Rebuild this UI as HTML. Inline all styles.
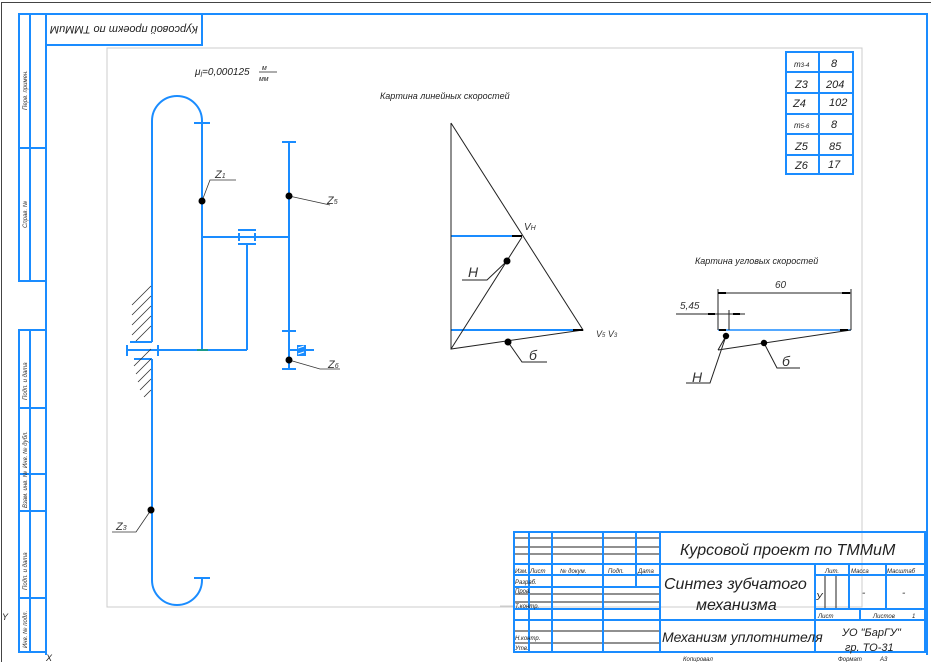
<!DOCTYPE html>
<html><head><meta charset="utf-8"><style>
html,body{margin:0;padding:0;background:#fff;}
svg{display:block;font-family:"Liberation Sans","DejaVu Sans",sans-serif;font-style:italic;}
</style></head><body>
<svg width="931" height="662" viewBox="0 0 931 662" xmlns="http://www.w3.org/2000/svg">
<rect x="0" y="0" width="931" height="662" fill="#fff"/>
<path d="M1.5 662 V2.5 H931" fill="none" stroke="#444" stroke-width="1"/>
<g fill="none" stroke="#1a8cff" stroke-width="2">
<path d="M46 14 H927 V655 M46 14 V655"/>
<rect x="19" y="14" width="27" height="267"/><line x1="30" y1="14" x2="30" y2="281"/><line x1="19" y1="148" x2="46" y2="148"/>
<rect x="19" y="330" width="27" height="322"/><line x1="30" y1="330" x2="30" y2="652"/>
<line x1="19" y1="408" x2="46" y2="408"/><line x1="19" y1="474" x2="46" y2="474"/><line x1="19" y1="511" x2="46" y2="511"/><line x1="19" y1="598" x2="46" y2="598"/>
<rect x="46" y="14" width="156" height="31"/>
</g>
<g font-size="6" fill="#333">
<text transform="translate(27,110) rotate(-90)">Перв. примен.</text>
<text transform="translate(27,228) rotate(-90)">Справ. №</text>
<text transform="translate(27,400) rotate(-90)">Подп. и дата</text>
<text transform="translate(27,468) rotate(-90)">Инв. № дубл.</text>
<text transform="translate(27,508) rotate(-90)">Взам. инв. №</text>
<text transform="translate(27,590) rotate(-90)">Подп. и дата</text>
<text transform="translate(27,648) rotate(-90)">Инв. № подл.</text>
</g>
<text transform="translate(198,26) rotate(180)" font-size="11" fill="#222">Курсовой проект по ТММиМ</text>
<rect x="107" y="48" width="755" height="559" fill="none" stroke="#ccc" stroke-width="1"/>
<text x="195" y="75" font-size="10" fill="#222">μ<tspan font-size="7" dy="2">l</tspan><tspan dy="-2">=0,000125</tspan></text>
<text x="262" y="70" font-size="7" fill="#222">м</text><line x1="259" y1="72" x2="277" y2="72" stroke="#222" stroke-width="0.7"/><text x="259" y="81" font-size="7" fill="#222">мм</text>
<g fill="none" stroke="#1a8cff" stroke-width="2">
<path d="M152 342 V121 A25 25 0 0 1 202 121 V350"/>
<line x1="194" y1="123" x2="210" y2="123"/>
<path d="M152 359 V580 A25 25 0 0 0 202 580 V578"/>
<line x1="194" y1="578" x2="210" y2="578"/>
<line x1="130" y1="342" x2="152" y2="342"/><line x1="134" y1="359" x2="152" y2="359"/>
<line x1="127" y1="350" x2="247" y2="350"/><line x1="127" y1="345" x2="127" y2="356"/><line x1="158" y1="345" x2="158" y2="356"/>
<line x1="247" y1="350" x2="247" y2="243"/>
<line x1="202" y1="237" x2="289" y2="237"/>
<line x1="238" y1="230" x2="256" y2="230"/><line x1="238" y1="244" x2="256" y2="244"/><line x1="239" y1="233" x2="239" y2="241"/><line x1="255" y1="233" x2="255" y2="241"/>
<line x1="289" y1="142" x2="289" y2="368"/>
<line x1="282" y1="142" x2="296" y2="142"/><line x1="282" y1="331" x2="296" y2="331"/><line x1="282" y1="369" x2="296" y2="369"/>
<line x1="289" y1="350" x2="314" y2="350"/>
</g>
<rect x="297" y="345" width="9" height="11" fill="#1a8cff"/>
<path d="M298 348 l6 -2 M298 354 l6 -2" stroke="#fff" stroke-width="1"/>
<line x1="197" y1="350" x2="208" y2="350" stroke="#1a9a8a" stroke-width="2"/>
<g stroke="#333" stroke-width="0.8" fill="none">
<path d="M132 305 l19 -19 M132 315 l19 -19 M132 325 l19 -19 M132 335 l19 -19 M136 341 l15 -15"/>
<path d="M134 366 l17 -17 M136 374 l15 -15 M138 382 l13 -13 M140 390 l11 -11 M144 397 l7 -7"/>
<path d="M202 201 L210 180 H236 M289 196 L330 205 M151 510 L136 532 H112 M289 360 L320 369 H340"/>
</g>
<g fill="#000"><circle cx="202" cy="201" r="3.5"/><circle cx="289" cy="196" r="3.5"/><circle cx="151" cy="510" r="3.5"/><circle cx="289" cy="360" r="3.5"/></g>
<g font-size="11" fill="#333"><text x="215" y="178">Z<tspan font-size="7">1</tspan></text><text x="327" y="204">Z<tspan font-size="7">5</tspan></text><text x="116" y="530">Z<tspan font-size="7">3</tspan></text><text x="328" y="368">Z<tspan font-size="7">6</tspan></text></g>
<text x="380" y="99" font-size="9" fill="#222">Картина линейных скоростей</text>
<g stroke="#1a8cff" stroke-width="2"><line x1="451" y1="236" x2="522" y2="236"/><line x1="451" y1="330" x2="583" y2="330"/></g>
<g stroke="#222" stroke-width="1" fill="none">
<path d="M451 123 V349 L583 330 L451 123 M451 349 L522 237 M507 261 L487 280 H462 M508 342 L522 362 H547"/>
</g>
<g fill="#000"><circle cx="507" cy="261" r="3.5"/><circle cx="508" cy="342" r="3.5"/><rect x="512" y="235" width="10" height="2"/><rect x="573" y="329" width="10" height="2"/></g>
<g fill="#333"><text x="524" y="230" font-size="10">V<tspan font-size="7">H</tspan></text><text x="596" y="337" font-size="9">V<tspan font-size="6">5</tspan> V<tspan font-size="6">3</tspan></text>
<text x="468" y="277" font-size="14">H</text><text x="529" y="360" font-size="14">б</text></g>
<g fill="none" stroke="#1a8cff" stroke-width="2"><rect x="786" y="52" width="67" height="122"/><line x1="819" y1="52" x2="819" y2="174"/>
<line x1="786" y1="72" x2="853" y2="72"/><line x1="786" y1="93" x2="853" y2="93"/><line x1="786" y1="114" x2="853" y2="114"/><line x1="786" y1="134" x2="853" y2="134"/><line x1="786" y1="155" x2="853" y2="155"/></g>
<g font-size="11" fill="#222"><text x="794" y="67" font-size="8">m<tspan font-size="6">3-4</tspan></text><text x="831" y="67">8</text>
<text x="795" y="88">Z3</text><text x="826" y="88">204</text><text x="793" y="107">Z4</text><text x="829" y="106">102</text>
<text x="794" y="128" font-size="8">m<tspan font-size="6">5-6</tspan></text><text x="831" y="128">8</text>
<text x="795" y="150">Z5</text><text x="829" y="150">85</text><text x="795" y="169">Z6</text><text x="828" y="168">17</text></g>
<text x="695" y="264" font-size="9" fill="#222">Картина угловых скоростей</text>
<line x1="718" y1="330" x2="851" y2="330" stroke="#1a8cff" stroke-width="1.5"/>
<g stroke="#222" stroke-width="1" fill="none"><path d="M718 293 H851 M718 289 V330 M851 289 V330 M676 314 H745 M729 310 V330 M718 350 L851 330 M726 336 L710 383 H686 M764 343 L777 368 H800 M726 336 L718 350"/></g>
<g fill="#000"><circle cx="726" cy="336" r="3.2"/><circle cx="764" cy="343" r="3.2"/><rect x="718" y="292" width="8" height="2"/><rect x="842" y="292" width="8" height="2"/><rect x="708" y="313" width="7" height="2"/><rect x="733" y="313" width="7" height="2"/><rect x="719" y="329" width="7" height="2"/><rect x="840" y="329" width="8" height="2"/></g>
<g fill="#333"><text x="775" y="288" font-size="10">60</text><text x="680" y="309" font-size="10">5,45</text><text x="692" y="382" font-size="14">H</text><text x="782" y="366" font-size="14">б</text></g>
<line x1="500" y1="606" x2="514" y2="606" stroke="#ccc"/>
<g stroke="#222" stroke-width="1"><path d="M514 538 H660 M514 547 H660 M514 554 H660 M514 594 H660 M514 602 H660 M514 631 H660 M514 643 H660 M825 575 V609 M836 575 V609"/></g>
<g fill="none" stroke="#1a8cff" stroke-width="2">
<rect x="514" y="532" width="411" height="120"/>
<path d="M529 532 V652 M552 532 V652 M603 532 V652 M636 532 V587 M660 532 V652 M514 564 H660 M514 575 H660 M514 587 H660 M514 609 H660 M514 620 H660 M660 564 H925 M660 620 H925 M815 564 V652 M815 575 H925 M815 609 H925 M849 564 V609 M886 564 V609 M860 609 V620"/>
</g>
<g font-size="6" fill="#222">
<text x="515" y="573">Изм.</text><text x="530" y="573">Лист</text><text x="560" y="573">№ докум.</text><text x="608" y="573">Подп.</text><text x="638" y="573">Дата</text>
<text x="515" y="584">Разраб.</text><text x="515" y="593">Пров.</text><text x="515" y="608">Т.контр.</text><text x="515" y="640">Н.контр.</text><text x="515" y="650">Утв.</text>
<text x="825" y="573">Лит.</text><text x="851" y="573">Масса</text><text x="887" y="573">Масштаб</text>
<text x="818" y="618">Лист</text><text x="873" y="618">Листов</text><text x="912" y="618">1</text>
<text x="683" y="661">Копировал</text><text x="838" y="661">Формат</text><text x="880" y="661">А3</text>
</g>
<g fill="#222">
<text x="680" y="555" font-size="16">Курсовой проект по ТММиМ</text>
<text x="664" y="589" font-size="16">Синтез зубчатого</text>
<text x="696" y="610" font-size="16">механизма</text>
<text x="662" y="642" font-size="14">Механизм уплотнителя</text>
<text x="816" y="600" font-size="10">У</text>
<text x="862" y="596" font-size="10">-</text><text x="902" y="596" font-size="10">-</text>
<text x="842" y="636" font-size="11">УО "БарГУ"</text>
<text x="845" y="651" font-size="11">гр. ТО-31</text>
<text x="2" y="620" font-size="9">Y</text><text x="46" y="661" font-size="9">X</text>
</g>
</svg>
</body></html>
